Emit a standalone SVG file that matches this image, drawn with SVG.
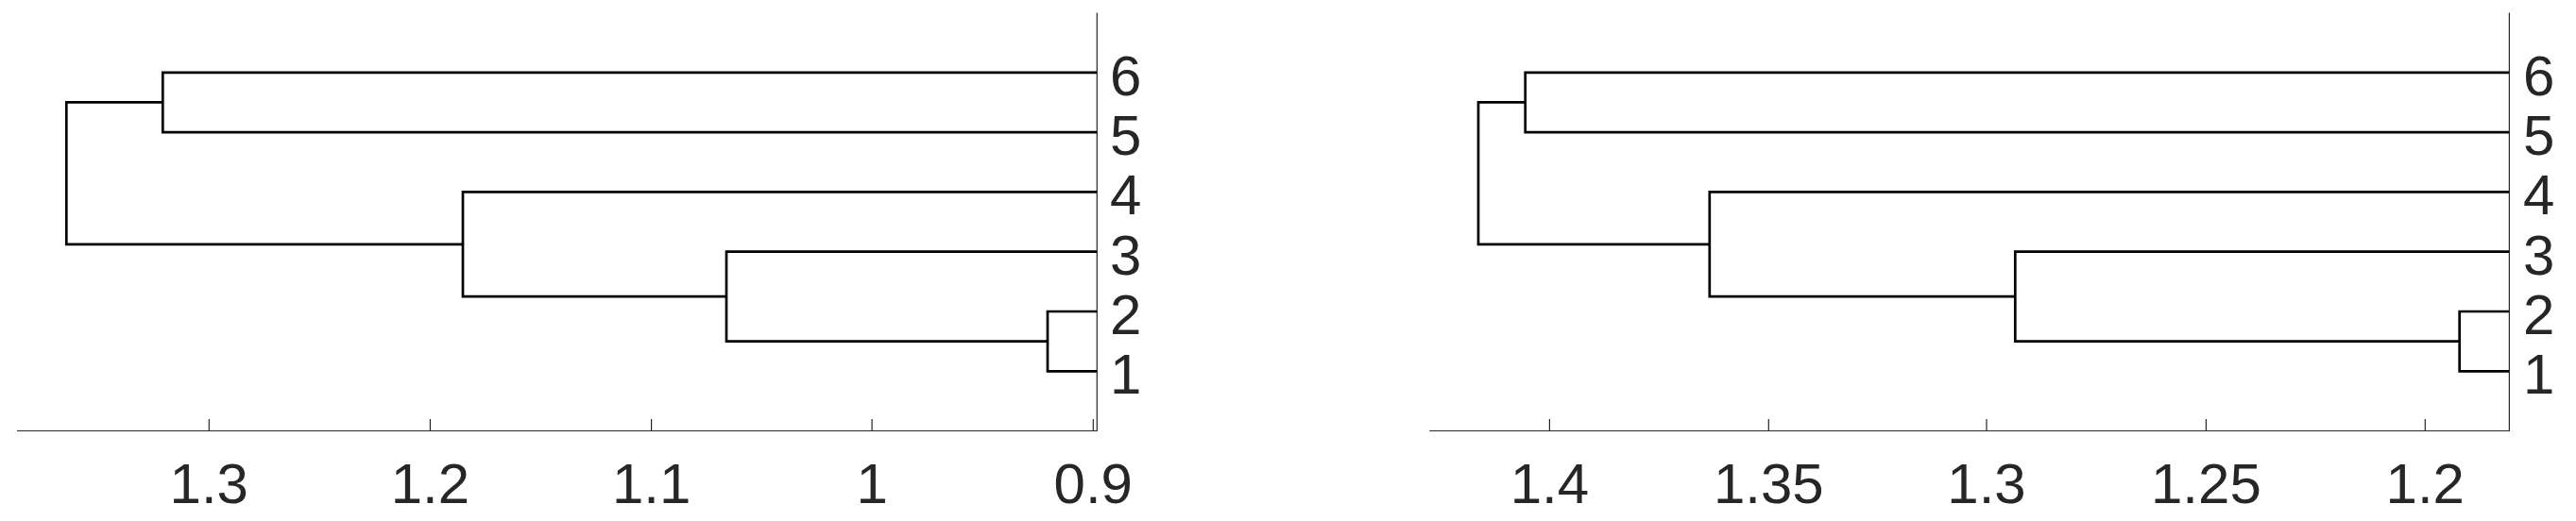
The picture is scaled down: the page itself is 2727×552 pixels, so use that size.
<svg xmlns="http://www.w3.org/2000/svg" width="2727" height="552" viewBox="0 0 2727 552">
<style>
.ax{stroke:#262626;stroke-width:1.2;fill:none}
.tk{stroke:#262626;stroke-width:1.2}
.ln{stroke:#000;stroke-width:2.7;fill:none;stroke-linejoin:miter}
.t{font-family:"Liberation Sans",Arial,sans-serif;font-size:60px;fill:#262626}
.tm{text-anchor:middle}
</style>
<rect width="2727" height="552" fill="#fff"/>
<g id="axes-left">
<path class="ax" d="M18,456.5 H1161.3 V13.5"/>
<path class="tk" d="M221.3,456.5 V444 M455.4,456.5 V444 M689.6,456.5 V444 M923.1,456.5 V444 M1157.3,456.5 V444"/>
<text class="t tm" x="221.3" y="533">1.3</text>
<text class="t tm" x="455.4" y="533">1.2</text>
<text class="t tm" x="689.6" y="533">1.1</text>
<text class="t tm" x="923.1" y="533">1</text>
<text class="t tm" x="1157.3" y="533">0.9</text>
</g>
<g id="leaves-left">
<g id="L-leaf6"><text class="t" x="1175" y="100.8">6</text></g>
<g id="L-leaf5"><text class="t" x="1175" y="164.1">5</text></g>
<g id="L-leaf4"><text class="t" x="1175" y="227.4">4</text></g>
<g id="L-leaf3"><text class="t" x="1175" y="290.7">3</text></g>
<g id="L-leaf2"><text class="t" x="1175" y="354">2</text></g>
<g id="L-leaf1"><text class="t" x="1175" y="417.3">1</text></g>
</g>
<g id="axes-right">
<path class="ax" d="M1513.3,456.5 H2656.4 V13.5"/>
<path class="tk" d="M1640.4,456.5 V444 M1872.3,456.5 V444 M2103,456.5 V444 M2335.4,456.5 V444 M2567.3,456.5 V444"/>
<text class="t tm" x="1640.4" y="533">1.4</text>
<text class="t tm" x="1872.3" y="533">1.35</text>
<text class="t tm" x="2103" y="533">1.3</text>
<text class="t tm" x="2335.4" y="533">1.25</text>
<text class="t tm" x="2567.3" y="533">1.2</text>
</g>
<g id="leaves-right">
<g id="R-leaf6"><text class="t" x="2671" y="100.8">6</text></g>
<g id="R-leaf5"><text class="t" x="2671" y="164.1">5</text></g>
<g id="R-leaf4"><text class="t" x="2671" y="227.4">4</text></g>
<g id="R-leaf3"><text class="t" x="2671" y="290.7">3</text></g>
<g id="R-leaf2"><text class="t" x="2671" y="354">2</text></g>
<g id="R-leaf1"><text class="t" x="2671" y="417.3">1</text></g>
</g>
<g id="connectors">
<path class="ln" d="M1161,393.3 H1109 V330 H1161"/>
<path class="ln" d="M1109,361.65 H769 V266.7 H1161"/>
<path class="ln" d="M769,314.2 H490 V203.4 H1161"/>
<path class="ln" d="M1161,140.1 H172.3 V76.8 H1161"/>
<path class="ln" d="M490,258.8 H70.3 V108.45 H172.3"/>
<path class="ln" d="M2656,393.3 H2603.7 V330 H2656"/>
<path class="ln" d="M2603.7,361.65 H2133.3 V266.7 H2656"/>
<path class="ln" d="M2133.3,314.2 H1809.8 V203.4 H2656"/>
<path class="ln" d="M2656,140.1 H1614.7 V76.8 H2656"/>
<path class="ln" d="M1809.8,258.8 H1565 V108.45 H1614.7"/>
</g>
</svg>
